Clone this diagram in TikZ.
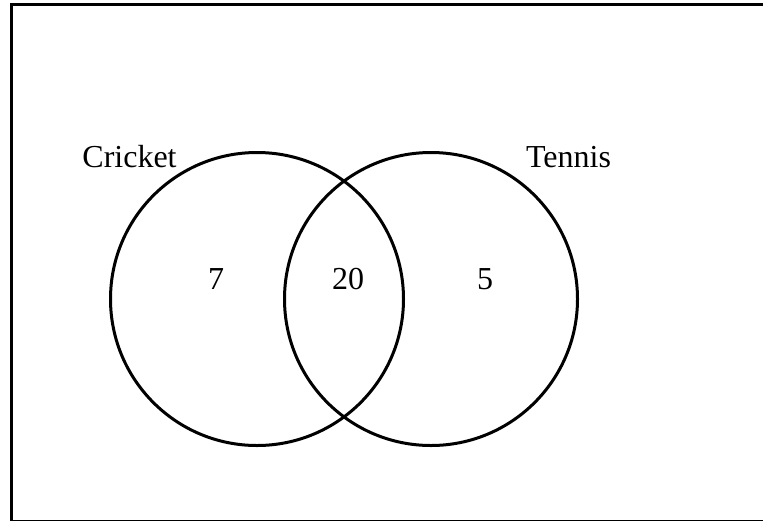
\documentclass[tikz,border=0pt]{standalone}
\usepackage{fontspec}
\setmainfont{Liberation Serif}
\usetikzlibrary{calc}
\def\drawframe{\draw[line width=3pt]}
\def\setcircle{\node[circle,draw=black,line width=3pt,minimum size=293pt,inner sep=0pt]}
\def\setlabel{\node[anchor=base,inner sep=0pt,font=\fontsize{32}{38}\selectfont]}

\begin{document}
\begin{tikzpicture}[x=1pt,y=-1pt]
\useasboundingbox (0,0) rectangle (763,520);
\clip (0,0) rectangle (763,520);
\drawframe (11,4.3) rectangle (775,521);

\coordinate (o) at (344,299); % the two circles are placed from (o)

% the two sets
\setcircle (cricket) at ($ (o) - (87,0) $) {};
\setcircle (tennis) at ($ (o) + (87,0) $) {};
\setlabel (cricketname) at (129.5,167) {Cricket};
\setlabel (tennisname) at (568.5,167) {Tennis};

% counts in each region
\setlabel (onlycricket) at (216,289) {7};
\setlabel (both) at ($ (o) + (4,-10) $) {20};
\setlabel (onlytennis) at (485,289) {5};
\end{tikzpicture}
\end{document}
